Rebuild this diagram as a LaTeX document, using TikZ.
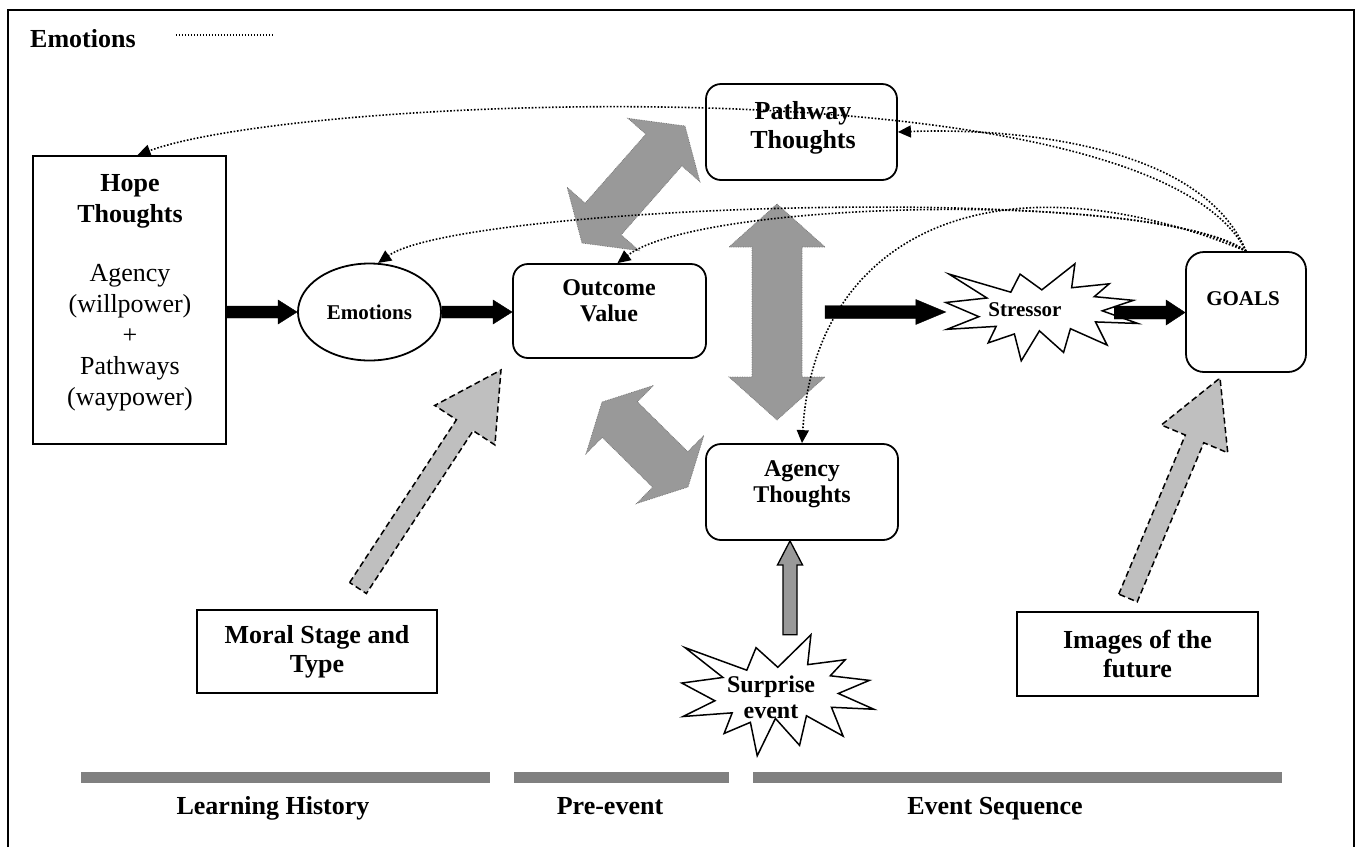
\documentclass[tikz,border=0pt]{standalone}
\usepackage{fontspec}
\setmainfont{Liberation Serif}
\usetikzlibrary{arrows.meta,calc,shapes.geometric}

% block arrow: style, tail, tip, half shaft, half head, head length
\newcommand\blockarrow[6]{%
  \coordinate (fa-h) at ($(#3)!#6!(#2)$);
  \draw[#1] ($(#2)!#4!90:(#3)$) -- ($(fa-h)!#4!90:(#3)$) -- ($(fa-h)!#5!90:(#3)$) -- (#3)
    -- ($(fa-h)!#5!-90:(#3)$) -- ($(fa-h)!#4!-90:(#3)$) -- ($(#2)!#4!-90:(#3)$) -- cycle;}
% two headed block arrow: style, end a, end b, half shaft, half head, head length
\newcommand\blockdouble[6]{%
  \coordinate (fd-a) at ($(#2)!#6!(#3)$);
  \coordinate (fd-b) at ($(#3)!#6!(#2)$);
  \draw[#1] (#2) -- ($(fd-a)!#5!90:(#3)$) -- ($(fd-a)!#4!90:(#3)$) -- ($(fd-b)!#4!90:(#3)$)
    -- ($(fd-b)!#5!90:(#3)$) -- (#3) -- ($(fd-b)!#5!-90:(#3)$) -- ($(fd-b)!#4!-90:(#3)$)
    -- ($(fd-a)!#4!-90:(#3)$) -- ($(fd-a)!#5!-90:(#3)$) -- cycle;}
% explosion outline filling the box of a node: node, x unit, y unit
\newcommand\burstoutline[3]{%
  \draw[line width=1.5pt, fill=white, shift={(#1.north west)}, x=#2, y=#3]
    (108,58) -- (145.22,0) -- (141.55,53.25) -- (183.8,44.57) -- (167.02,73.15)
    -- (210.97,81.37) -- (176.07,104.75) -- (216,132.9) -- (168.37,129.42)
    -- (181.45,180.95) -- (140.2,144.57) -- (132.47,197.37) -- (105.32,149.35)
    -- (84.85,216) -- (77.15,156.27) -- (47.62,176.17) -- (56.67,139.37)
    -- (1.35,145.87) -- (37.22,117.75) -- (0,86.15) -- (46.27,76.17)
    -- (3.7,22.95) -- (73.12,63.2) -- (83.52,22.95) -- cycle;}

\tikzset{
  frame/.style={line width=2.5pt},
  sqbox/.style={draw, line width=1.8pt, inner sep=0pt},
  rbox/.style={sqbox, rounded corners=15pt, minimum width=192pt, minimum height=96pt},
  burstbox/.style={inner sep=0pt},
  bigtxt/.style={font=\fontsize{26}{29}\selectfont\bfseries, align=center, inner sep=0pt},
  midtxt/.style={font=\fontsize{24}{26}\selectfont\bfseries, align=center, inner sep=0pt},
  smalltxt/.style={font=\fontsize{21}{24}\selectfont\bfseries, inner sep=0pt},
  solidarrow/.style={fill=black},
  darkfat/.style={fill=black!40, draw=black!55, line width=0.7pt, densely dotted},
  lightfat/.style={fill=black!25, draw=black, line width=1.5pt, dash pattern=on 6pt off 3.5pt},
  smallfat/.style={fill=black!40, draw=black, line width=1.3pt},
  emoline/.style={line width=1.6pt, dash pattern=on 1.6pt off 1.8pt, -{Triangle[length=13pt,width=12pt]}},
  barfill/.style={fill=black!50},
}

\begin{document}
\begin{tikzpicture}[x=1pt, y=-1pt]
\useasboundingbox (0,0) rectangle (1361,847);
\draw[frame] (8,847) -- (8,10) -- (1354,10) -- (1354,847);

% legend
\node[bigtxt, anchor=base west] (legend) at (30,47) {Emotions};
\draw[line width=1.4pt, dash pattern=on 1.4pt off 1.6pt] ([xshift=40pt,yshift=3pt]legend.east) -- ++(98,0);

% boxes
\node[sqbox, minimum width=193pt, minimum height=288pt] (hope) at (129.5,300) {};
\node[font=\fontsize{26}{31}\selectfont, align=center, inner sep=0pt] (hope-txt) at (130,293)
  {\textbf{Hope}\\\textbf{Thoughts}\\[28pt]Agency\\(willpower)\\+\\Pathways\\(waypower)};
\node[ellipse, draw, line width=1.8pt, minimum width=143pt, minimum height=97pt, inner sep=0pt,
  font=\fontsize{21}{24}\selectfont\bfseries] (emo) at (369.5,312) {Emotions};
\node[rbox, minimum width=193pt, minimum height=94pt] (outcome) at (609.5,311) {};
\node[midtxt] (outcome-txt) at (609,301) {Outcome\\Value};
\node[rbox, minimum width=191pt] (pathway) at (801.5,132) {};
\node[bigtxt] (pathway-txt) at (803,128) {Pathway\\Thoughts};
\node[rbox] (agency) at (802,492) {};
\node[midtxt] (agency-txt) at (802,484.5) {Agency\\Thoughts};
\node[sqbox, rounded corners=18pt, minimum width=120pt, minimum height=120pt] (goals) at (1246,312) {};
\node[smalltxt] (goals-txt) at (1243,299) {GOALS};
\node[burstbox, minimum width=192pt, minimum height=97pt] (stressor) at (1042,312.5) {};
\burstoutline{stressor}{0.889pt}{-0.449pt}
\node[smalltxt] (stressor-txt) at (1025,310) {Stressor};
\node[burstbox, minimum width=192pt, minimum height=121pt] (surprise) at (778,695.5) {};
\burstoutline{surprise}{0.889pt}{-0.560pt}
\node[midtxt] (surprise-txt) at (771,697) {Surprise\\event};
\node[sqbox, bigtxt, minimum width=240pt, minimum height=83pt] (moral) at (317,651.5) {Moral Stage and\\Type};
\node[sqbox, bigtxt, minimum width=241pt, minimum height=84pt] (images) at (1137.5,654) {Images of the\\future};

% black arrows
\coordinate (he-tail) at (hope.east |- emo.west);
\blockarrow{solidarrow}{he-tail}{emo.west}{6pt}{12pt}{19pt}
\coordinate (eo-tip) at (outcome.west |- emo.east);
\blockarrow{solidarrow}{emo.east}{eo-tip}{6pt}{12pt}{19pt}
\coordinate (seq-tail) at (825,312);
\coordinate (seq-tip) at (stressor.west |- seq-tail);
\blockarrow{solidarrow}{seq-tail}{seq-tip}{6.5pt}{12.5pt}{30pt}
\coordinate (sg-tail) at ([xshift=-24pt]stressor.east);
\coordinate (sg-tip) at (goals.west |- sg-tail);
\blockarrow{solidarrow}{sg-tail}{sg-tip}{6.5pt}{12.5pt}{19pt}

% grey two headed arrows
\coordinate (po-a) at (582,243);
\coordinate (po-b) at (685,126);
\blockdouble{darkfat}{po-a}{po-b}{24pt}{48pt}{32pt}
\coordinate (pa-a) at (777,204);
\coordinate (pa-b) at (777,420);
\blockdouble{darkfat}{pa-a}{pa-b}{25pt}{48pt}{43pt}
\coordinate (oa-a) at (602,402);
\coordinate (oa-b) at (688,487);
\blockdouble{darkfat}{oa-a}{oa-b}{25pt}{48pt}{25pt}

% surprise into agency
\coordinate (sa-tip) at ([xshift=-12pt]agency.south);
\coordinate (sa-tail) at (sa-tip |- surprise.north);
\blockarrow{smallfat}{sa-tail}{sa-tip}{7pt}{12.5pt}{24pt}

% dashed influence arrows
\coordinate (moral-tail) at (358,588);
\coordinate (moral-tip) at (501,370);
\blockarrow{lightfat}{moral-tail}{moral-tip}{10pt}{36pt}{66pt}
\coordinate (images-tail) at (1128,598);
\coordinate (images-tip) at (1220,378);
\blockarrow{lightfat}{images-tail}{images-tip}{10pt}{36pt}{66pt}

% emotion feedback
\draw[emoline] (goals.north) .. controls (1150,60) and (300,95) .. ([xshift=8pt]hope.north);
\draw[emoline] (goals.north) .. controls (1200,140) and (1000,128) .. (pathway.east);
\draw[emoline] (goals.north) .. controls (1150,180) and (460,205) .. (emo.80);
\draw[emoline] (goals.north) .. controls (1150,190) and (700,200) .. ([xshift=8pt]outcome.north);
\draw[emoline] (goals.north) .. controls (1000,150) and (815,230) .. (agency.north);

% time line
\fill[barfill] (81,772) rectangle (490,783);
\fill[barfill] (514,772) rectangle (729,783);
\fill[barfill] (753,772) rectangle (1282,783);
\node[bigtxt, anchor=base] (learning) at (273,814) {Learning History};
\node[bigtxt, anchor=base] (preevent) at (610,814) {Pre-event};
\node[bigtxt, anchor=base] (sequence) at (995,814) {Event Sequence};
\end{tikzpicture}
\end{document}
